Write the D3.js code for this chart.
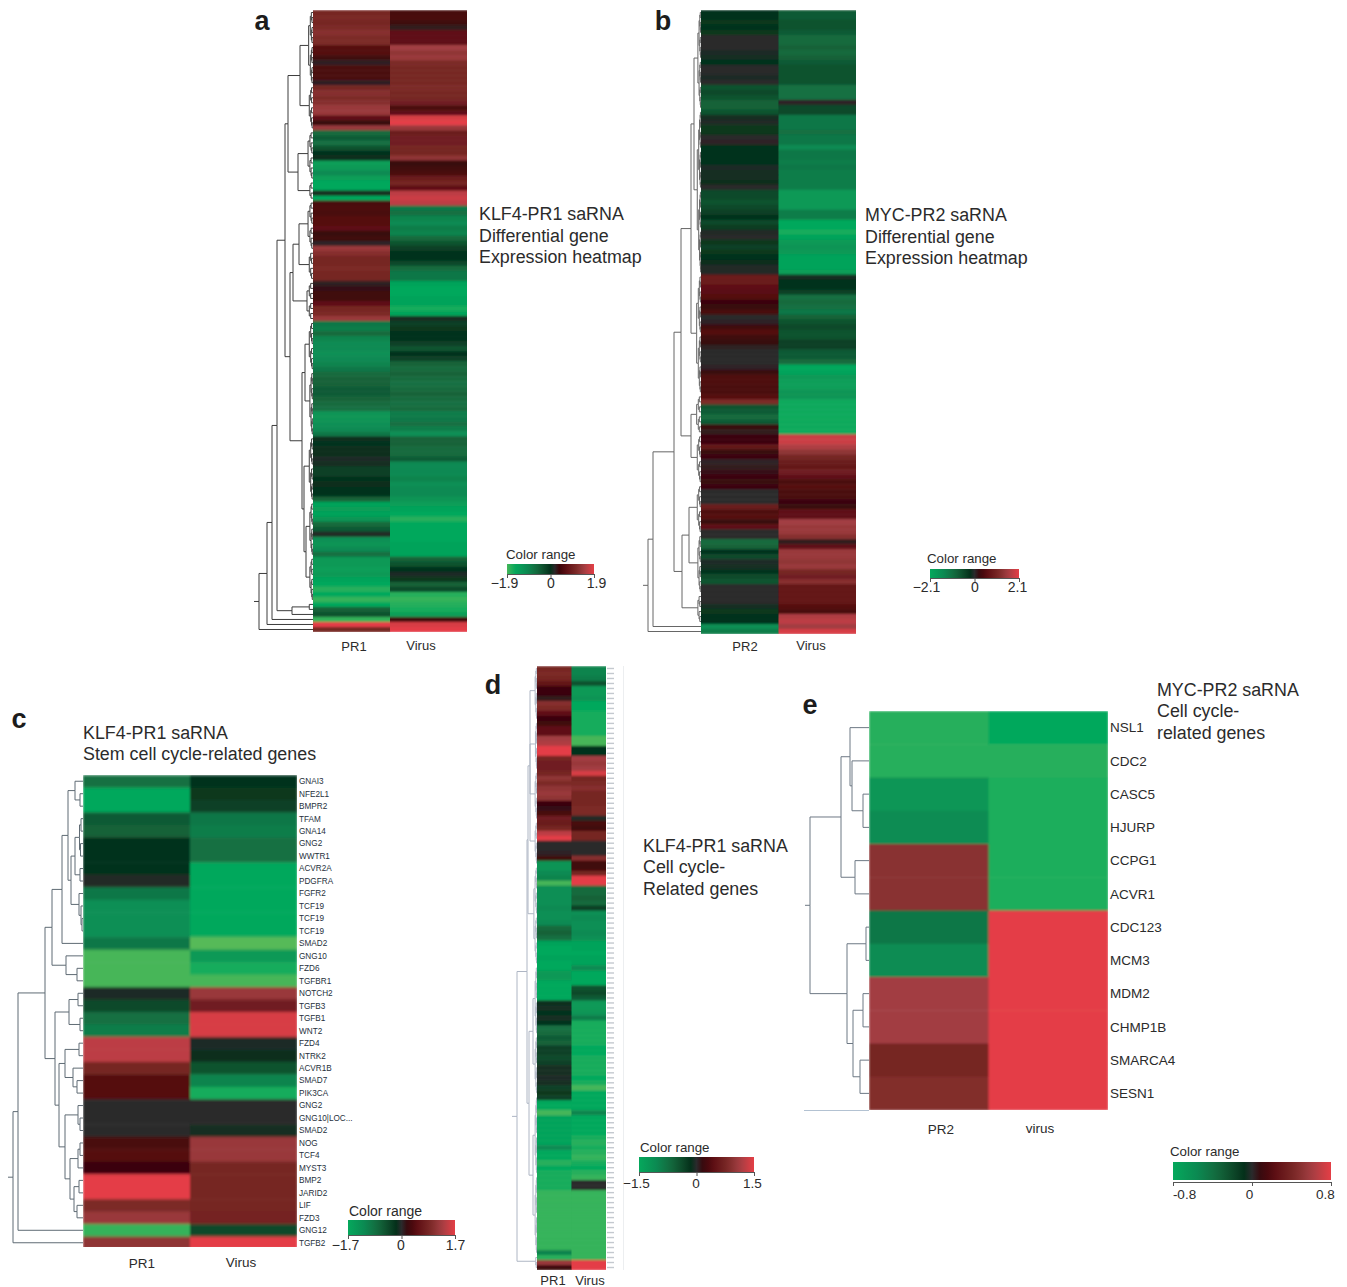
<!DOCTYPE html>
<html>
<head>
<meta charset="utf-8">
<script src="https://cdn.jsdelivr.net/npm/d3@7"></script>
<style>
html, body { margin: 0; padding: 0; background: #fff; }
svg { display: block; }
text { font-family: "Liberation Sans", Arial, sans-serif; fill: #2b2b2b; }
</style>
</head>
<body>
<svg id="chart" width="1347" height="1287"></svg>
<script>
// values are scaled to the colour range of each panel (-1 .. 1, a bit below -1 = lime end)
var a_pr1 = [
  .5,.55,.5,.55,.6,.55,.55,.25,.25,.15,
  .04,.2,.2,.2,.04,.5,.6,.55,.6,.7,
  .7,.3,.1,.7,-.45,-.35,-.5,-.3,-.1,-.08,
  -.9,-.85,-.7,-.9,-1,-1,-.05,-1,.2,.22,
  .2,.25,.25,.3,.1,.15,.02,.7,.6,.5,
  .5,.55,.5,.5,.03,.08,.15,.15,.3,.5,
  .55,.7,-.55,-.6,-.45,-.65,-.7,-.7,-.75,-.7,
  -.65,-.55,-.45,-.4,-.4,-.35,-.35,-.4,-.45,-.5,
  -.8,-.8,-.75,-.7,-.55,-.08,-.1,-.08,-.08,-.03,
  -.06,-.2,-.2,-.12,-.08,-.1,-.1,-.4,-.95,-.9,
  -.95,-.8,-.45,-.35,-.02,-.75,-.8,-.7,-.5,-.85,
  -.85,-.9,-.85,-.95,-1,-1.1,-1,-1.15,-1,-.4,
  -.3,-1.15,1,.5]
var a_virus = [
  .18,.2,.15,.05,.3,.3,.3,.75,.65,.7,
  .55,.5,.5,.5,.5,.55,.5,.5,.45,.2,
  .3,.95,1,.7,.4,.45,.45,.5,.5,.65,
  .1,.15,.2,.4,.5,.3,.85,.9,.85,-.55,
  -.5,-.65,-.7,-.6,-.65,-.45,-.3,-.2,-.1,-.12,
  -.25,-.45,-.55,-.55,-.95,-1,-1,-.95,-.95,-1.05,
  -.95,-.05,-.2,-.15,-.1,-.1,-.2,-.3,-.1,-.2,
  -.4,-.45,-.4,-.45,-.5,-.45,-.4,-.45,-.5,-.45,
  -.6,-.55,-.5,-.6,-.75,-.4,-.4,-.45,-.45,-.35,
  -.7,-.7,-.7,-.65,-.75,-.7,-.7,-.8,-.9,-.95,
  -1,-1.1,-1,-1,-1,-1,-.95,-.95,-.95,-.4,
  -.3,-.1,-.03,-.15,-.4,-.25,-1.1,-1.15,-1.1,-1.05,
  -.9,.15,.95,1]
var b_pr2 = [
  -.12,-.12,-.15,-.1,-.15,0,0,0,-.03,-.06,
  -.1,0,0,-.03,0,-.3,-.25,-.3,-.4,-.4,
  -.3,-.05,-.02,-.15,-.15,0,.02,-.1,-.12,-.12,
  -.12,-.03,-.05,-.05,-.07,0,-.25,-.25,-.3,-.25,
  -.2,-.1,-.25,-.18,-.02,0,-.15,-.2,-.15,-.1,
  -.08,-.02,-.02,.42,.4,.3,.28,.25,.12,.1,
  .2,0,.02,.15,.25,.15,.1,.03,0,0,
  0,.02,.1,.22,.22,.2,.2,.25,.55,-.3,
  -.35,-.45,-.35,.1,.05,.12,.12,.35,.1,.12,
  .02,.05,.08,.12,.1,.12,0,0,0,.4,
  .22,.25,.1,.3,0,0,-.45,-.4,-.1,-.25,
  -.03,-.05,-.12,-.25,-.3,0,0,0,0,-.05,
  -.15,-.1,-.1,-.75,-.6]
var b_virus = [
  -.35,-.35,-.3,-.3,-.35,-.45,-.45,-.4,-.45,-.4,
  -.35,-.3,-.3,-.3,-.3,-.5,-.5,-.5,.02,-.25,
  -.25,-.55,-.55,-.55,-.5,-.55,-.55,-.7,-.55,-.55,
  -.6,-.55,-.6,-.6,-.6,-.6,-.85,-.85,-.85,-.85,
  -.6,-.6,-1,-1,-1.05,-.95,-.85,-.8,-.85,-.95,
  -.95,-.95,-.9,-.05,-.1,-.12,-.2,-.5,-.45,-.5,
  -.55,-.4,-.3,-.25,-.3,-.3,-.2,-.2,-.35,-.35,
  -.45,-1,-.95,-.85,-.9,-.9,-.8,-.8,-1.02,-1.02,
  -1.02,-1.02,-1.02,-1.02,-1.02,.9,.9,.8,.65,.5,
  .4,.35,.45,.3,.2,.25,.2,.2,.12,.1,
  .3,.3,.75,.7,.7,.6,.05,.3,.7,.7,
  .65,.7,.5,.45,.6,.35,.35,.35,.35,.25,
  .2,.8,.85,.75,.95]
var c_genes = ["GNAI3","NFE2L1","BMPR2","TFAM","GNA14","GNG2","WWTR1","ACVR2A","PDGFRA","FGFR2","TCF19","TCF19","TCF19","SMAD2","GNG10","FZD6","TGFBR1","NOTCH2","TGFB3","TGFB1","WNT2","FZD4","NTRK2","ACVR1B","SMAD7","PIK3CA","GNG2","GNG10|LOC...","SMAD2","NOG","TCF4","MYST3","BMP2","JARID2","LIF","FZD3","GNG12","TGFB2"]
var c_pr1 = [-.5,-1,-1,-.35,-.4,-.1,-.1,-.12,-.02,-.55,-.75,-.75,-.75,-.55,-1.2,-1.2,-1.2,-.03,-.25,-.5,-.6,.85,.85,.5,.25,.25,0,0,0,.2,.25,.12,1,1,.55,.7,-1.15,.65]
var c_virus = [-.12,-.15,-.2,-.55,-.6,-.5,-.5,-1,-1,-1,-1,-1,-1,-1.25,-.85,-1.05,-1.2,.7,.45,.95,.95,-.03,-.08,-.3,-.65,-1.05,0,0,-.05,.7,.7,.5,.5,.5,.5,.48,-.25,1]
var d_pr1 = [
  .5,.55,.5,.35,.12,.12,.05,.6,.55,.3,
  .12,.15,.3,.3,.75,.8,1,1,.5,.45,
  .45,.5,.65,.55,.65,.7,.65,.12,.08,.2,
  .45,.4,.5,.85,1,0,0,.02,.15,-.8,
  -.8,-.7,-.65,-1.2,-.75,-.75,-.75,-.75,-.7,-.75,
  -.75,-.7,-.45,-.4,-.5,-.95,-1,-1,-.95,-1,
  -1,-.85,-.85,-1,-1,-1,-1,-.08,-.05,-.1,
  -.05,-.1,-.5,-.45,-.35,-.4,-.2,-.2,-.25,-.2,
  -.05,-.05,-.03,-.05,-.2,-.15,-.2,-1,-1,-1.2,
  -.95,-.95,-.95,-.95,-.95,-.95,-.7,-1,-1,-1.1,
  -1,-1.05,-1.05,-1.05,-1.05,-1.15,-1.15,-1.15,-1.15,-1.15,
  -1.15,-1.15,-1.15,-1.15,-1.15,-1.15,-1.15,-.65,-1.1,.7,
  .15]
var d_virus = [
  -.65,-.65,-.6,-.3,-.85,-.85,-.8,-1,-1,-1.05,
  -1.05,-1.05,-1.05,-1.05,-1.2,-1.2,-.1,-.1,.75,.7,
  .75,.95,.5,.55,.6,.5,.5,.5,.55,.55,
  -.02,.2,.15,.5,.5,0,0,0,.6,.15,
  .15,.5,1,1,-.45,-.45,-.4,-.45,-.2,-.75,
  -.7,-.75,-.75,-.7,-.75,-.95,-.95,-1,-.95,-.95,
  -.7,-1,-1,-1,-.3,-.25,-.35,-.85,-.85,-.8,
  -.6,-1.05,-1.05,-1.05,-1.05,-1.05,-1,-1,-1.05,-1.05,
  -1.05,-1.05,-1,-1.05,-1.2,-1,-1,-1,-1,-.65,
  -1,-1,-1,-1,-1.05,-1.1,-1.05,-1.1,-1.15,-1.05,
  -1,-1.1,-1.15,0,0,-1.15,-1.15,-1.15,-1.15,-1.15,
  -1.15,-1.15,-1.15,-1.15,-1.15,-1.15,-1.15,-1.15,-1.15,1,
  1]
var e_genes = ["NSL1","CDC2","CASC5","HJURP","CCPG1","ACVR1","CDC123","MCM3","MDM2","CHMP1B","SMARCA4","SESN1"]
var e_pr2 = [-1.1,-1.1,-.82,-.72,.62,.62,-.55,-.72,.75,.75,.5,.58]
var e_virus = [-1,-1.1,-1.08,-1.08,-1.08,-1.08,1,1,1,1,1,1]

// dendrograms: [merge distance, child, child...], a plain number is a run of that many rows
var a_tree = [54,[46,[41,[36,[28,[25,[13,[7,15],[6,9]],[15,[8,10],[5,4]]],[23,[20,[14,[8,10],[6,6]],[10,8]],[11,[8,[6,10],[5,13]],[9,[6,13],[7,[5,11],[5,9]]]]]],[21,[6,2],[4,1]]],1],1],1]
var b_tree = [53,[48,[27,[20,[10,[7,[5,20],[6,33]],[7,24]],[10,[7,8],[6,10]]],[19,[12,[6,10],[5,12]],[5,6]]],1],1]
var c_tree = [70,[65,[38,[31,[21,[15,[8,1,[3,1,1]],[12,[8,[3.5,[2,1,1],[2.5,1,1]],[3,1,1]],[4,1,[2,1,[1,1,1]]]]],1],[17,1,[6,1,1]]],[28,[14,[5,1,1],[3,1,1]],[24,[18,[4,1,1],[10,1,[6,1,1]]],[18,[5,1,[3,1,1]],[13,[5,[3,1,1],1],[9,[4,1,1],[6,1,1]]]]]]],1],1]
var d_tree = [20,[10,[9,[7,[3,11],[2.5,10],[3,10],[3,9]],[5,20]],[8,[4,[3,14],[3,12]],[4,[3,16],[3,16]]]],[6,[2,3]]]
var e_tree = [59,[28,[19,1,[17,1,[6,1,1]]],[14,1,1]],[22,[3,1,1],[16,[6,1,1],[9,1,1]]]]

var svg = d3.select("#chart")
var defs = svg.append("defs")

var color = d3.scaleLinear()
  .domain([-1.2,-1,-.7,-.45,-.25,-.1,0,.12,.3,.55,.75,1])
  .range(["#46b659","#05a85c","#0b8a52","#146a3e","#0e4a2a","#04301a","#2a2a2c","#3a0509","#5e0f14","#7c2a28","#a23e42","#e43e46"])

defs.append("filter").attr("id","soft").append("feGaussianBlur").attr("stdDeviation","0.4 1.1")
defs.append("filter").attr("id","softer").append("feGaussianBlur").attr("stdDeviation","1.2 1.4")
defs.append("filter").attr("id","block").append("feGaussianBlur").attr("stdDeviation","0.8")

function expand(node, parentDist) {
  if (typeof node === "number") {
    if (node <= 1) return 1
    var lo = Math.floor(node/2)
    var dd = Math.min(parentDist*0.62, 6)
    return [dd, expand(lo,dd), expand(node-lo,dd)]
  }
  var out = [node[0]]
  node.slice(1).forEach(function(c){ out.push(expand(c,node[0])) })
  return out
}

function dendro(p, y) {
  var root = d3.hierarchy(expand(p.tree, p.tree[0]), function(d){ return Array.isArray(d) ? d.slice(1) : null })
  var dist = d3.scaleLinear().domain([0,p.tree[0]]).range([p.x0,p.rootX])
  root.leaves().forEach(function(l,i){ l.y = y(i)+y.bandwidth()/2; l.x = p.x0 })
  root.eachAfter(function(n){
    if (!n.children) return
    n.y = (n.children[0].y+n.children[n.children.length-1].y)/2
    n.x = dist(n.data[0])
  })
  var g = svg.append("g").attr("fill","none").attr("stroke",p.stroke).attr("stroke-width",p.sw)
  g.selectAll("path").data(root.links()).enter().append("path")
    .attr("d",function(l){
      var q = d3.path()
      q.moveTo(l.target.x,l.target.y)
      q.lineTo(l.source.x,l.target.y)
      q.lineTo(l.source.x,l.source.y)
      return q.toString()
    })
  g.append("line").attr("x1",root.x-5).attr("x2",root.x).attr("y1",root.y).attr("y2",root.y)
}

function heat(p) {
  var rows = d3.range(p.cols[0].length)
  var y = d3.scaleBand().domain(rows).range([p.y0,p.y1])
  var x = d3.scaleBand().domain(d3.range(p.cols.length)).range([p.x0,p.x1])
  dendro(p,y)
  var bottom = p.clipY1 || p.y1
  defs.append("clipPath").attr("id","clip"+p.letter[0]).append("rect")
    .attr("x",p.x0).attr("y",p.y0).attr("width",p.x1-p.x0).attr("height",bottom-p.y0)
  var g = svg.append("g").attr("clip-path","url(#clip"+p.letter[0]+")")
    .append("g").attr("filter","url(#"+p.blur+")")
  p.cols.forEach(function(col,j){
    g.selectAll("rect.c"+j).data(col).enter().append("rect").attr("class","c"+j)
      .attr("x",x(j)).attr("width",x.bandwidth()+0.5)
      .attr("y",function(d,i){return y(i)}).attr("height",y.bandwidth()+0.5)
      .attr("fill",function(d){return color(d)})
  })
  if (p.genes) {
    svg.append("g").selectAll("text").data(p.genes).enter().append("text")
      .attr("x",p.x1+p.geneDx).attr("y",function(d,i){return y(i)+y.bandwidth()/2})
      .attr("dy","0.35em").attr("font-size",p.geneSize).style("fill",p.geneFill)
      .text(function(d){return d})
  }
  if (p.tinyLabels) {
    // row names in d are too small to read in the figure
    svg.append("g").attr("stroke","#c4c9cf").attr("stroke-width",1.4).selectAll("line").data(rows).enter().append("line")
      .attr("x1",p.x1+1).attr("x2",p.x1+8)
      .attr("y1",function(i){return y(i)+y.bandwidth()/2}).attr("y2",function(i){return y(i)+y.bandwidth()/2})
    svg.append("line").attr("x1",623.5).attr("x2",623.5).attr("y1",p.y0).attr("y2",p.y1).attr("stroke","#eceef0")
  }
  p.colLabels.forEach(function(c){
    svg.append("text").attr("x",c[1]).attr("y",c[2]).attr("text-anchor","middle").attr("font-size",p.colSize).text(c[0])
  })
  svg.append("text").attr("x",p.letter[1]).attr("y",p.letter[2]).attr("text-anchor","middle")
    .attr("font-size",27).attr("font-weight","bold").style("fill","#1c1c1c").text(p.letter[0])
  p.title.forEach(function(t,i){
    svg.append("text").attr("x",p.titleX).attr("y",p.titleY[i]).attr("font-size",17.85).text(t)
  })
  legend(p.legend)
}

function legend(l) {
  var id = "grad"+l.id
  var grad = defs.append("linearGradient").attr("id",id)
  d3.range(0,1.001,0.05).forEach(function(t){
    grad.append("stop").attr("offset",t).attr("stop-color",color(l.low+(1-l.low)*t))
  })
  svg.append("text").attr("x",l.textX).attr("y",l.textY).attr("font-size",l.size).text("Color range")
  svg.append("rect").attr("x",l.x0).attr("y",l.y0).attr("width",l.x1-l.x0).attr("height",l.h)
    .attr("fill","url(#"+id+")")
  var s = d3.scaleLinear().domain([-l.range,0,l.range]).range([l.x0,(l.x0+l.x1)/2,l.x1])
  var ax = d3.axisBottom(s).tickValues([-l.range,0,l.range]).tickSize(4).tickPadding(l.pad)
    .tickFormat(function(v){ return l.labels[v<0?0:(v>0?2:1)] })
  var g = svg.append("g").attr("transform","translate(0,"+(l.y0+l.h+(l.gap||0))+")").call(ax)
  g.selectAll("path,line").attr("stroke","#555")
  g.selectAll("text").attr("font-size",l.tickSize).style("font-family","'Liberation Sans', Arial, sans-serif").style("fill","#2b2b2b")
    .attr("x",function(d,i){ return l.shift[i] })
}

heat({cols:[a_pr1,a_virus],tree:a_tree,x0:313,x1:467,y0:10,y1:632,rootX:259,stroke:"#3c3c3c",sw:1,blur:"soft",
  colLabels:[["PR1",354,651],["Virus",421,650]],colSize:13,letter:["a",262,30],
  title:["KLF4-PR1 saRNA","Differential gene","Expression heatmap"],titleX:479,titleY:[220,242,263],
  legend:{id:"a",low:-1.2,range:1.9,labels:["\u22121.9","0","1.9"],x0:507,x1:594,y0:564,h:10,textX:506,textY:559,size:13.3,tickSize:14,pad:0,shift:[-3,0,2]}})

heat({cols:[b_pr2,b_virus],tree:b_tree,x0:701,x1:856,y0:10,y1:634,rootX:648,stroke:"#666",sw:1,blur:"soft",
  colLabels:[["PR2",745,651],["Virus",811,650]],colSize:13,letter:["b",663,30],
  title:["MYC-PR2 saRNA","Differential gene","Expression heatmap"],titleX:865,titleY:[221,243,264],
  legend:{id:"b",low:-1,range:2.1,labels:["\u22122.1","0","2.1"],x0:930,x1:1019,y0:569,h:9,textX:927,textY:563,size:13.3,tickSize:14,pad:0,shift:[-4,0,-2]}})

heat({cols:[c_pr1,c_virus],tree:c_tree,x0:83,x1:297,y0:775,y1:1249,clipY1:1247,rootX:13,stroke:"#5f6b74",sw:1,blur:"softer",
  genes:c_genes,geneDx:2,geneSize:8.2,geneFill:"#26303c",
  colLabels:[["PR1",142,1268],["Virus",241,1267]],colSize:13.5,letter:["c",19,728],
  title:["KLF4-PR1 saRNA","Stem cell cycle-related genes"],titleX:83,titleY:[739,760],
  legend:{id:"c",low:-1,range:1.7,labels:["\u22121.7","0","1.7"],x0:348,x1:455,y0:1220,h:15,textX:349,textY:1216,size:14,tickSize:14,pad:1,shift:[-3,-1,0]}})

heat({cols:[d_pr1,d_virus],tree:d_tree,x0:537,x1:606,y0:666,y1:1270,rootX:517,stroke:"#aeb6c4",sw:1,blur:"soft",tinyLabels:true,
  colLabels:[["PR1",553,1285],["Virus",590,1285]],colSize:13,letter:["d",493,694],
  title:["KLF4-PR1 saRNA","Cell cycle-","Related genes"],titleX:643,titleY:[852,873,895],
  legend:{id:"d",low:-1,range:1.5,labels:["\u22121.5","0","1.5"],x0:639,x1:754,y0:1157,h:15,textX:640,textY:1152,size:13.3,tickSize:13.5,pad:2,shift:[-3,-1,-2]}})

heat({cols:[e_pr2,e_virus],tree:e_tree,x0:869,x1:1108,y0:711,y1:1110,rootX:810,stroke:"#6d7884",sw:1,blur:"block",
  genes:e_genes,geneDx:2,geneSize:13.5,geneFill:"#2b2b2b",
  colLabels:[["PR2",941,1134],["virus",1040,1133]],colSize:13.5,letter:["e",810,714],
  title:["MYC-PR2 saRNA","Cell cycle-","related genes"],titleX:1157,titleY:[696,717,739],
  legend:{id:"e",low:-1,range:0.8,labels:["-0.8","0","0.8"],x0:1173,x1:1331,y0:1162,h:18,gap:2,textX:1170,textY:1156,size:13.3,tickSize:13.5,pad:3,shift:[11,-3,-6]}})

svg.append("line").attr("x1",804).attr("x2",869).attr("y1",1110.5).attr("y2",1110.5).attr("stroke","#b3c2d2")
</script>
</body>
</html>
